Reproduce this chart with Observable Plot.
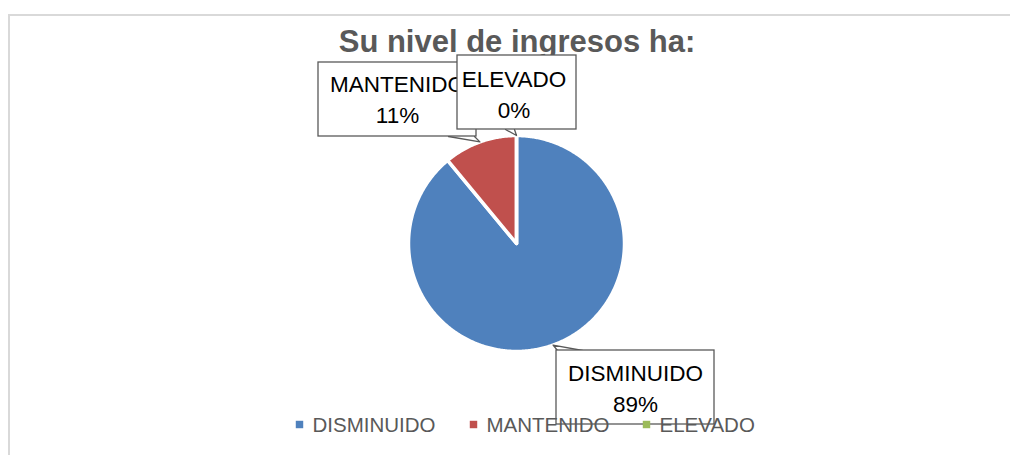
<!DOCTYPE html>
<html><head><meta charset="utf-8">
<script src="https://cdn.jsdelivr.net/npm/d3@7"></script>
<script src="https://cdn.jsdelivr.net/npm/@observablehq/plot@0.6"></script>
<style>
html,body{margin:0;padding:0;background:#fff;width:1010px;height:455px;overflow:hidden}
#chart{position:absolute;left:0;top:0}
#frame{position:absolute;left:8px;top:14px;width:1100px;height:600px;border-left:2px solid #d9d9d9;border-top:2px solid #d9d9d9;pointer-events:none}
</style></head><body>
<div id="chart"></div><div id="frame"></div>
<script>
// ---- data ----
const title = "Su nivel de ingresos ha:";
const categories = ["DISMINUIDO", "MANTENIDO", "ELEVADO"];
const values = [89, 11, 0];
const percentLabels = ["89%", "11%", "0%"];
const colors = ["#4f81bd", "#c0504d", "#9bbb59"];

// ---- layout (pixels) ----
const W = 1010, H = 455;
const pieLayout = {cx: 516, cy: 243, r: 108};
const boxLayout = {
  MANTENIDO:  {x1: 318, x2: 476, y1: 62,  y2: 136, base: [[448, 136], [474, 136]], dx: 0, dy: -2},
  ELEVADO:    {x1: 457, x2: 576, y1: 55,  y2: 129, base: [[505, 129], [514, 129]], dx: -3, dy: 0},
  DISMINUIDO: {x1: 556, x2: 714, y1: 350, y2: 424, base: [[557, 350], [582, 350]], dx: 0, dy: -1}
};
const labelOrder = ["MANTENIDO", "ELEVADO", "DISMINUIDO"];
const legendLayout = {x: [299, 473, 646], y: 424, gap: 13, baseline: 431};
const FONT = "Liberation Sans, Arial, sans-serif";

const rows = categories.map((c, i) => ({category: c, value: values[i], label: percentLabels[i]}));
const arcs = d3.pie().sort(null).value(d => d.value).startAngle(0).endAngle(2 * Math.PI)(rows);

const polar = (a, r) => ({x: pieLayout.cx + r * Math.sin(a), y: pieLayout.cy - r * Math.cos(a)});

const slicePts = arcs.flatMap(a => {
  const k = a.data.category;
  const n = Math.max(2, Math.ceil((a.endAngle - a.startAngle) / 0.01));
  const pts = [{k, x: pieLayout.cx, y: pieLayout.cy}];
  for (let j = 0; j <= n; j++) {
    const t = a.startAngle + (a.endAngle - a.startAngle) * j / n;
    pts.push({k, ...polar(t, pieLayout.r)});
  }
  pts.push({k, x: pieLayout.cx, y: pieLayout.cy});
  return pts;
});

const labelMarks = labelOrder.flatMap(name => {
  const a = arcs.find(d => d.data.category === name);
  const b = boxLayout[name];
  const anchor = polar((a.startAngle + a.endAngle) / 2, pieLayout.r);
  const wedge = [{x: b.base[0][0], y: b.base[0][1]}, anchor, {x: b.base[1][0], y: b.base[1][1]}];
  return [
    Plot.line(wedge, {x: "x", y: "y", fill: "white", stroke: "#595959", strokeWidth: 1.3}),
    Plot.rect([b], {x1: "x1", x2: "x2", y1: "y1", y2: "y2", fill: "white", stroke: "#595959", strokeWidth: 1.3}),
    Plot.text([a.data], {
      x: () => (b.x1 + b.x2) / 2 + b.dx,
      y: () => (b.y1 + b.y2) / 2 + b.dy,
      text: d => d.category + "\n" + d.label,
      lineAnchor: "middle", lineHeight: 1.4,
      fontSize: 22.5, fontFamily: FONT, fill: "#000"
    })
  ];
});

const chart = Plot.plot({
  width: W, height: H, margin: 0,
  style: {background: "none", fontFamily: FONT},
  x: {domain: [0, W], range: [0, W], axis: null},
  y: {domain: [0, H], range: [0, H], axis: null},
  color: {domain: categories, range: colors},
  marks: [
    Plot.text([title], {x: () => 516.5, y: () => 51, text: d => d, lineAnchor: "bottom",
      fontSize: 31, fontWeight: "bold", fill: "#595959", fontFamily: FONT}),
    Plot.line(slicePts, {x: "x", y: "y", z: "k", fill: "k", stroke: "white", strokeWidth: 3.5, strokeLinejoin: "round"}),
    ...labelMarks,
    Plot.dot(rows, {x: (d, i) => legendLayout.x[i], y: () => legendLayout.y, symbol: "square", fill: "category", r: 4.2}),
    Plot.text(rows, {x: (d, i) => legendLayout.x[i] + legendLayout.gap, y: () => legendLayout.baseline,
      text: "category", textAnchor: "start", lineAnchor: "bottom",
      fontSize: 20.5, fill: "#595959", fontFamily: FONT})
  ]
});
document.getElementById("chart").appendChild(chart);
</script>
</body></html>
